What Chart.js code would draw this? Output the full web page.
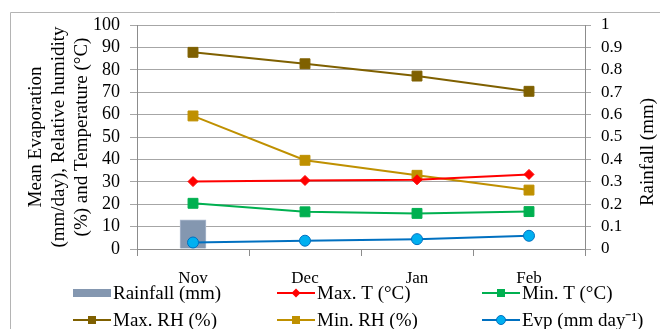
<!DOCTYPE html>
<html>
<head>
<meta charset="utf-8">
<script src="https://cdn.jsdelivr.net/npm/chart.js@4"></script>
<style>
  html, body { margin: 0; padding: 0; background: #fff; }
  #wrap { position: relative; width: 660px; height: 329px; }
</style>
</head>
<body>
<div id="wrap"><canvas id="c" width="660" height="329"></canvas></div>
<script>
const categories = ['Nov', 'Dec', 'Jan', 'Feb'];
const rainfall = [0.13, 0, 0, 0];
const maxT = [30.1, 30.6, 30.9, 33.3];
const minT = [20.4, 16.6, 15.9, 16.7];
const maxRH = [87.8, 82.7, 77.2, 70.4];
const minRH = [59.4, 39.6, 32.9, 26.3];
const evp = [2.9, 3.7, 4.4, 5.9];
const leftTicks = [0, 10, 20, 30, 40, 50, 60, 70, 80, 90, 100];
const rightTicks = [0, 0.1, 0.2, 0.3, 0.4, 0.5, 0.6, 0.7, 0.8, 0.9, 1];

const SERIF = '"Liberation Serif", "Times New Roman", serif';

const legendItems = [
  { label: 'Rainfall (mm)', type: 'box', color: '#8497B0', col: 0, row: 0 },
  { label: 'Max. T (°C)', type: 'line', color: '#FF0000', fill: '#FF0000', marker: 'diamond', col: 1, row: 0 },
  { label: 'Min. T (°C)', type: 'line', color: '#00B050', fill: '#00B050', marker: 'square', col: 2, row: 0 },
  { label: 'Max. RH (%)', type: 'line', color: '#7F6000', fill: '#7F6000', marker: 'square', col: 0, row: 1 },
  { label: 'Min. RH (%)', type: 'line', color: '#BF9000', fill: '#BF9000', marker: 'square', col: 1, row: 1 },
  { label: 'Evp (mm day⁻¹)', type: 'line', color: '#0070C0', fill: '#00B0F0', marker: 'circle', col: 2, row: 1 }
];

const decorPlugin = {
  id: 'decor',
  beforeDraw(chart) {
    const ctx = chart.ctx;
    ctx.save();
    ctx.strokeStyle = '#b4b4b4';
    ctx.lineWidth = 1;
    ctx.beginPath();
    ctx.moveTo(10.5, 329);
    ctx.lineTo(10.5, 12.5);
    ctx.lineTo(660, 12.5);
    ctx.stroke();
    ctx.restore();
  },
  afterDraw(chart) {
    const ctx = chart.ctx;
    ctx.save();
    // right axis title, reading bottom-to-top
    ctx.font = '19px ' + SERIF;
    ctx.fillStyle = '#000';
    ctx.textAlign = 'center';
    ctx.textBaseline = 'middle';
    ctx.translate(648, 152);
    ctx.rotate(-Math.PI / 2);
    ctx.fillText('Rainfall (mm)', 0, 0);
    ctx.restore();

    // legend
    const colX = [73, 277, 482];
    const rowY = [293, 320];
    ctx.save();
    ctx.font = '19px ' + SERIF;
    ctx.textBaseline = 'middle';
    ctx.textAlign = 'left';
    legendItems.forEach(it => {
      const x = colX[it.col];
      const y = rowY[it.row];
      if (it.type === 'box') {
        ctx.fillStyle = it.color;
        ctx.fillRect(x, y - 4, 38, 8);
      } else {
        ctx.strokeStyle = it.color;
        ctx.lineWidth = 2;
        ctx.beginPath();
        ctx.moveTo(x, y);
        ctx.lineTo(x + 38, y);
        ctx.stroke();
        const mx = x + 19;
        ctx.fillStyle = it.fill;
        ctx.strokeStyle = it.color;
        ctx.lineWidth = 1;
        if (it.marker === 'square') {
          ctx.fillRect(mx - 4, y - 4, 8, 8);
        } else if (it.marker === 'diamond') {
          ctx.beginPath();
          ctx.moveTo(mx, y - 4.5); ctx.lineTo(mx + 4.5, y); ctx.lineTo(mx, y + 4.5); ctx.lineTo(mx - 4.5, y);
          ctx.closePath(); ctx.fill();
        } else {
          ctx.beginPath();
          ctx.arc(mx, y, 4.5, 0, Math.PI * 2);
          ctx.fill(); ctx.stroke();
        }
      }
      ctx.fillStyle = '#000';
      ctx.fillText(it.label, x + 40, y + 1);
    });
    ctx.restore();
  }
};

const lineDs = (label, data, color, fill, style, radius) => ({
  type: 'line',
  label,
  data,
  yAxisID: 'y',
  borderColor: color,
  backgroundColor: fill,
  borderWidth: 2,
  pointStyle: style,
  pointRadius: radius,
  pointHoverRadius: radius,
  pointBackgroundColor: fill,
  pointBorderColor: style === 'circle' ? color : fill,
  pointBorderWidth: 1,
  tension: 0,
  order: 1
});

new Chart(document.getElementById('c'), {
  type: 'bar',
  data: {
    labels: categories,
    datasets: [
      {
        type: 'bar',
        label: 'Rainfall (mm)',
        data: rainfall,
        yAxisID: 'y2',
        backgroundColor: '#8497B0',
        borderColor: '#aebbd0',
        borderWidth: 1,
        barThickness: 26,
        order: 10
      },
      lineDs('Max. T (°C)', maxT, '#FF0000', '#FF0000', 'rectRot', 5),
      lineDs('Min. T (°C)', minT, '#00B050', '#00B050', 'rect', 7),
      lineDs('Max. RH (%)', maxRH, '#7F6000', '#7F6000', 'rect', 7),
      lineDs('Min. RH (%)', minRH, '#BF9000', '#BF9000', 'rect', 7),
      lineDs('Evp (mm day⁻¹)', evp, '#0070C0', '#00B0F0', 'circle', 5.5)
    ]
  },
  options: {
    responsive: false,
    animation: false,
    events: [],
    layout: { padding: { top: 25, left: 0, right: 0, bottom: 0 } },
    plugins: { legend: { display: false }, tooltip: { enabled: false }, title: { display: false } },
    scales: {
      x: {
        type: 'category',
        offset: true,
        grid: { offset: true, drawOnChartArea: false, drawTicks: true, tickLength: 7, color: '#8c8c8c' },
        border: { color: '#8c8c8c' },
        ticks: { padding: 12, color: '#000', font: { family: SERIF, size: 17 } },
        afterFit(scale) { scale.height = 80; }
      },
      y: {
        position: 'left',
        min: 0, max: 100,
        afterBuildTicks(scale) { scale.ticks = leftTicks.map(v => ({ value: v })); },
        grid: { color: '#a6a6a6', tickLength: 7 },
        border: { color: '#8c8c8c' },
        ticks: { autoSkip: false, padding: 10, color: '#000', font: { family: SERIF, size: 18 } },
        title: {
          display: true,
          text: ['Mean Evaporation', '(mm/day), Relative humidity', '(%) and Temperature (°C)'],
          color: '#000',
          font: { family: SERIF, size: 19, lineHeight: 1.2 },
          padding: { top: 25, bottom: 0 }
        },
        afterFit(scale) { scale.width = 137; }
      },
      y2: {
        position: 'right',
        min: 0, max: 1,
        afterBuildTicks(scale) { scale.ticks = rightTicks.map(v => ({ value: v })); },
        grid: { drawOnChartArea: false, color: '#a6a6a6', tickLength: 6 },
        border: { color: '#8c8c8c' },
        ticks: { autoSkip: false, padding: 10, color: '#000', font: { family: SERIF, size: 17 },
                 callback: v => String(Math.round(v * 10) / 10) },
        afterFit(scale) { scale.width = 75; }
      }
    }
  },
  plugins: [decorPlugin]
});
</script>
</body>
</html>
